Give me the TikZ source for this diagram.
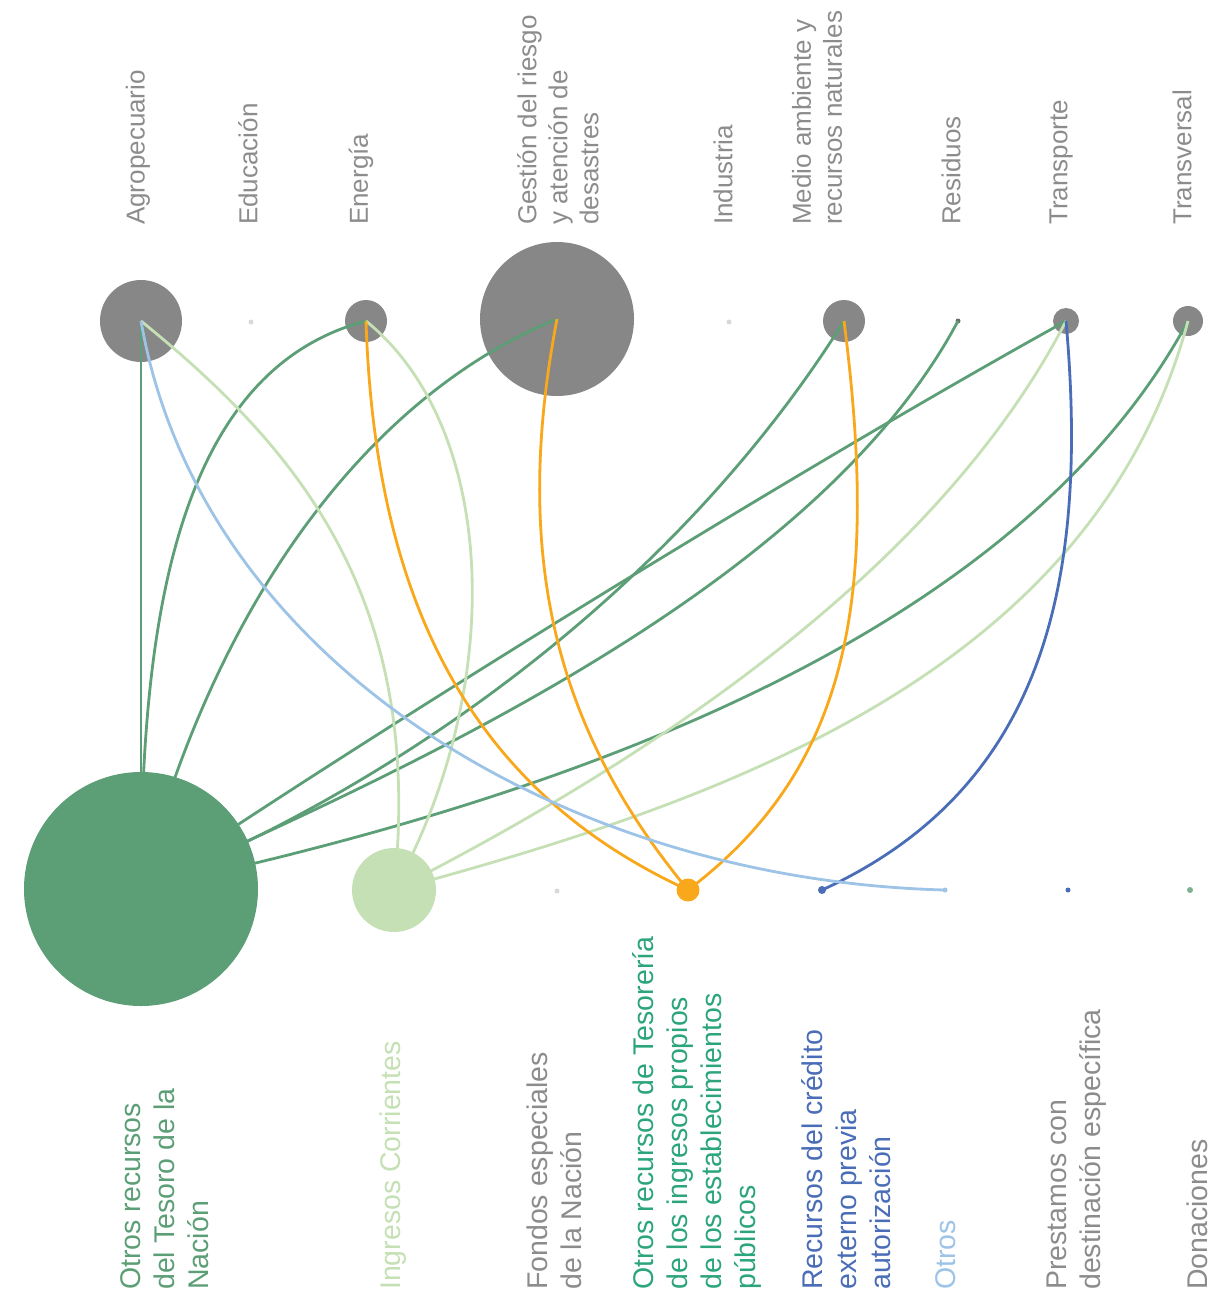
\documentclass[tikz,border=0pt]{standalone}
\usepackage{fontspec}
\setmainfont{Liberation Sans}
\definecolor{cgray}{HTML}{878787}
\definecolor{labgray}{HTML}{8C8C8C}
\definecolor{lgray}{HTML}{D9D9D9}
\definecolor{dgreen}{HTML}{5C9E76}
\definecolor{lgreen}{HTML}{C5E0B4}
\definecolor{corange}{HTML}{F9A81C}
\definecolor{cblue}{HTML}{4A6DB7}
\definecolor{lblue}{HTML}{9DC3E6}
\definecolor{teal}{HTML}{2CA57B}
\begin{document}
\begin{tikzpicture}[x=1pt,y=-1pt,
  dot/.style={circle,inner sep=0pt,draw=none},
  link/.style={line width=2.8pt},
  toplab/.style={rotate=90,anchor=west,align=left,inner sep=0pt,text=labgray,font=\fontsize{26}{31}\selectfont},
  botlab/.style={rotate=90,anchor=west,align=left,inner sep=0pt,text=labgray,font=\fontsize{28.5}{34}\selectfont}]
\useasboundingbox (0,0) rectangle (1221,1295);
% top nodes
\node[dot,fill=cgray,minimum size=82pt] (agro) at (141,321) {};
\node[dot,fill=lgray,minimum size=5pt] (edu) at (251,322) {};
\node[dot,fill=cgray,minimum size=42pt] (ene) at (366,321) {};
\node[dot,fill=cgray,minimum size=154pt] (ges) at (557,319) {};
\node[dot,fill=lgray,minimum size=5pt] (ind) at (729,322) {};
\node[dot,fill=cgray,minimum size=42pt] (med) at (844,321) {};
\node[dot,fill=cgray!80!black,minimum size=5pt] (res) at (958,321) {};
\node[dot,fill=cgray,minimum size=26pt] (tra) at (1066,321) {};
\node[dot,fill=cgray,minimum size=30pt] (tsv) at (1188,321) {};
% bottom node positions
\coordinate (tesc) at (141,889);
\coordinate (ingc) at (394,890);
\coordinate (otesc) at (688,890);
\coordinate (recc) at (822,890);
\coordinate (otrc) at (945,890);
% connectors
\draw[link,dgreen] (tesc) -- (agro.center);
\draw[link,dgreen] (tesc) .. controls (141,640) and (170,372) .. (ene.center);
\draw[link,dgreen] (tesc) .. controls (215,600) and (370,395) .. (ges.center);
\draw[link,dgreen] (tesc) .. controls (419,777) and (685,575) .. (med.center);
\draw[link,dgreen] (tesc) .. controls (433,759) and (820,580) .. (res.center);
\draw[link,dgreen] (tesc) .. controls (390,721) and (804,466) .. (tra.center);
\draw[link,dgreen] (tesc) .. controls (532,806) and (1010,650) .. (tsv.center);
\draw[link,lgreen] (ingc) .. controls (425,600) and (300,450) .. (agro.center);
\draw[link,lgreen] (ingc) .. controls (505,690) and (500,430) .. (ene.center);
\draw[link,lgreen] (ingc) .. controls (661,754) and (940,565) .. (tra.center);
\draw[link,lgreen] (ingc) .. controls (732,799) and (1094,670) .. (tsv.center);
\draw[link,corange] (otesc) .. controls (470,790) and (375,600) .. (ene.center);
\draw[link,corange] (otesc) .. controls (560,735) and (510,564) .. (ges.center);
\draw[link,corange] (otesc) .. controls (848,769) and (880,601) .. (med.center);
\draw[link,cblue] (recc) .. controls (1040,790) and (1090,590) .. (tra.center);
\draw[link,lblue] (otrc) .. controls (560,880) and (200,660) .. (agro.center);
% bottom nodes
\node[dot,fill=dgreen,minimum size=234pt] (tes) at (tesc) {};
\node[dot,fill=lgreen,minimum size=84pt] (ing) at (ingc) {};
\node[dot,fill=lgray,minimum size=5pt] (fon) at (557,891) {};
\node[dot,fill=corange,minimum size=23pt] (otes) at (otesc) {};
\node[dot,fill=cblue,minimum size=8pt] (rec) at (recc) {};
\node[dot,fill=lblue,minimum size=5pt] (otr) at (otrc) {};
\node[dot,fill=cblue,minimum size=5pt] (pre) at (1068,890) {};
\node[dot,fill=dgreen!80!white,minimum size=6pt] (don) at (1190,890) {};
% top labels
\node[toplab] (lagro) at (138,225) {Agropecuario};
\node[toplab] (ledu) at (248,225) {Educación};
\node[toplab] (lene) at (361,225) {Energía};
\node[toplab] (lges) at (558,225) {Gestión del riesgo\\y atención de\\desastres};
\node[toplab] (lind) at (723,225) {Industria};
\node[toplab] (lmed) at (817,225) {Medio ambiente y\\recursos naturales};
\node[toplab] (lres) at (951,225) {Residuos};
\node[toplab] (ltra) at (1061,225) {Transporte};
\node[toplab] (ltsv) at (1182,225) {Transversal};
% bottom labels
\node[botlab,text=dgreen] (ltes) at (165,1290) {Otros recursos\\del Tesoro de la\\Nación};
\node[botlab,text=lgreen] (ling) at (393,1290) {Ingresos Corrientes};
\node[botlab] (lfon) at (554,1290) {Fondos especiales\\de la Nación};
\node[botlab,text=teal] (lotes) at (697,1290) {Otros recursos de Tesorería\\de los ingresos propios\\de los establecimientos\\públicos};
\node[botlab,text=cblue] (lrec) at (846,1290) {Recursos del crédito\\externo previa\\autorización};
\node[botlab,text=lblue] (lotr) at (946,1290) {Otros};
\node[botlab] (lpre) at (1077,1290) {Prestamos con\\destinación específica};
\node[botlab] (ldon) at (1197,1290) {Donaciones};
\end{tikzpicture}
\end{document}
